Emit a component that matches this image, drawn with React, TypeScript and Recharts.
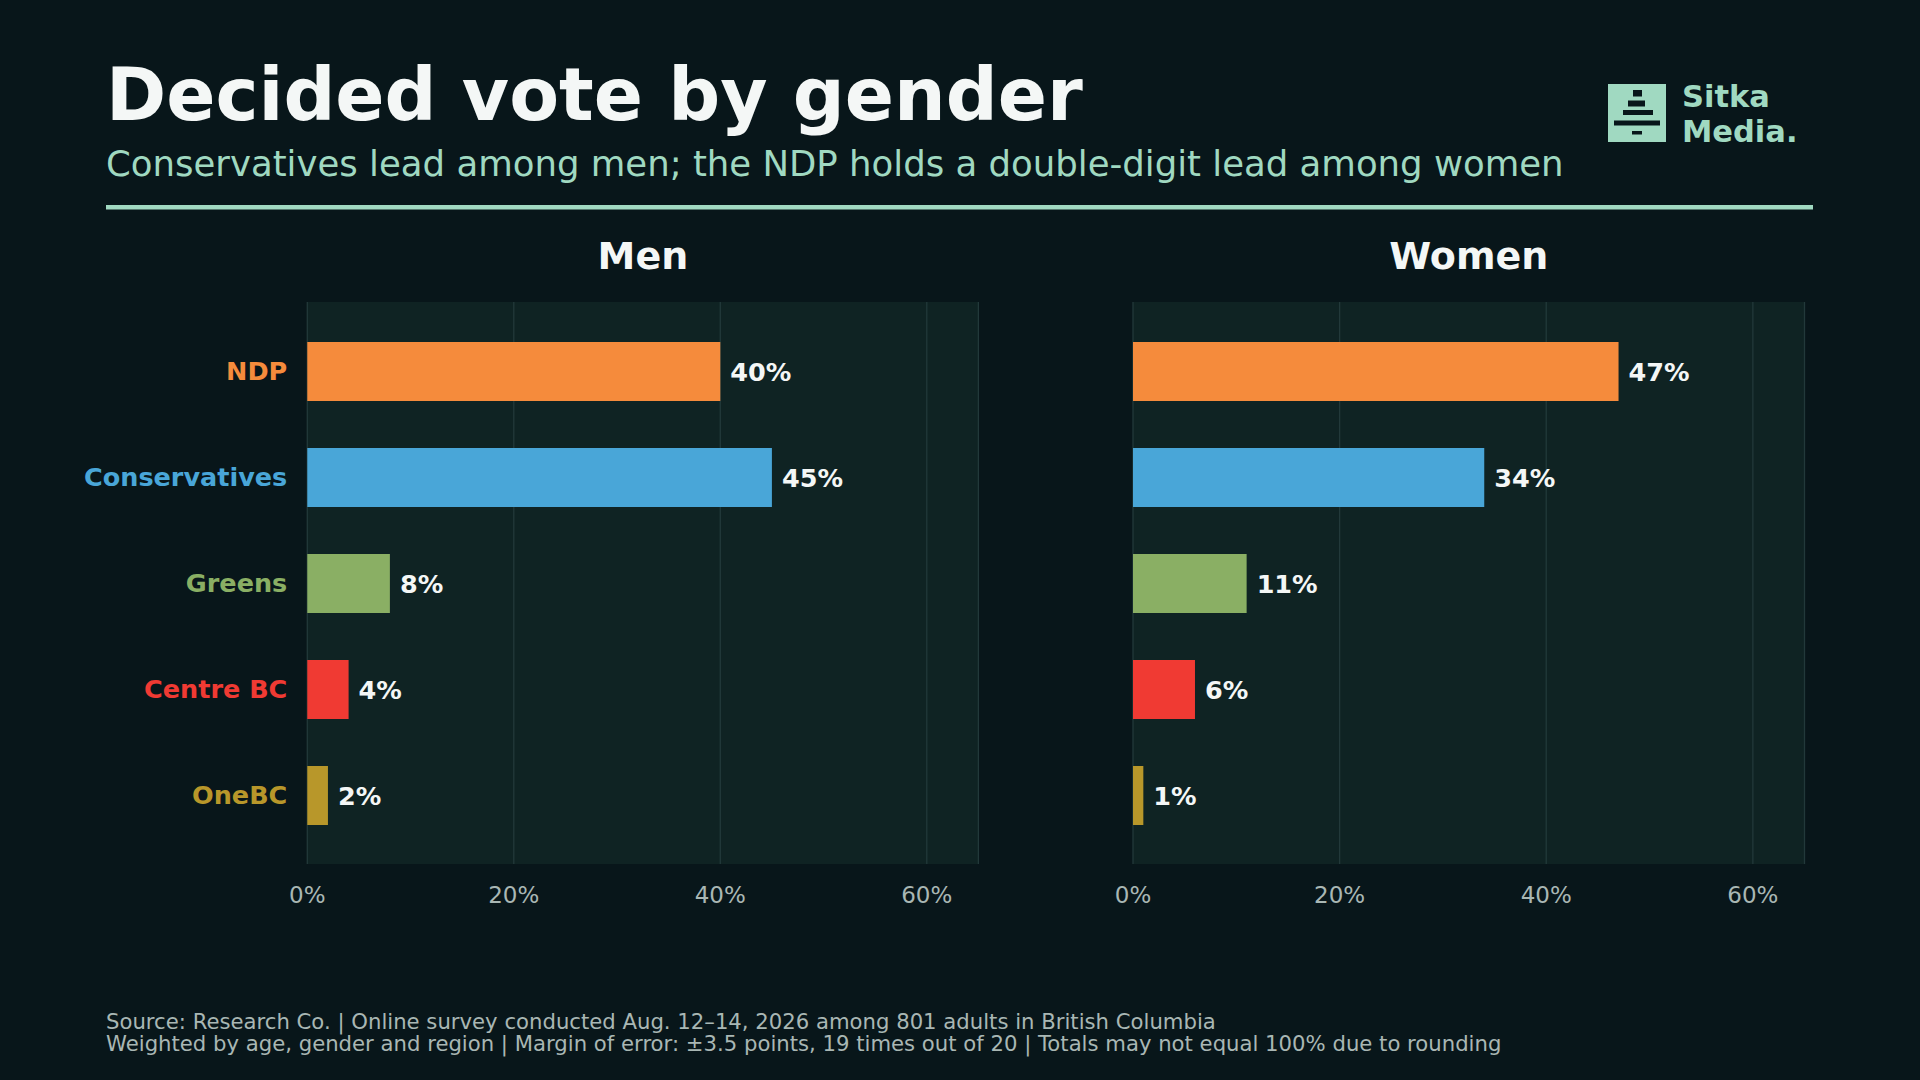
import { Bar, BarChart, CartesianGrid, Cell, LabelList, XAxis, YAxis } from 'recharts';

const parties = ['NDP', 'Conservatives', 'Greens', 'Centre BC', 'OneBC'];
const partyColors = ['#f58b3c', '#49a6d8', '#8aaf64', '#f03a33', '#b8972a'];
const menShares = [40, 45, 8, 4, 2];
const womenShares = [47, 34, 11, 6, 1];
const pctTicks = [0, 20, 40, 60];

const rows = parties.map((party, i) => ({
  party,
  men: menShares[i],
  women: womenShares[i],
}));

const FONT = '"DejaVu Sans", sans-serif';
const BG = '#08161a';
const PLOT_BG = '#0f2323';
const GRID = '#22393a';
const MINT = '#a0d9c1';
const WHITE = '#f4f7f6';
const MUTED = '#a9b7b4';

const colorOf = (party: string) => partyColors[parties.indexOf(party)] ?? WHITE;

function PartyTick({ x, y, payload }: any) {
  return (
    <text
      x={x}
      y={y}
      dy="0.36em"
      textAnchor="end"
      fontFamily={FONT}
      fontSize={25.5}
      fontWeight="bold"
      fill={colorOf(payload.value)}
    >
      {payload.value}
    </text>
  );
}

interface PanelProps {
  dataKey: 'men' | 'women';
  width: number;
  margin: { top: number; right: number; bottom: number; left: number };
  showParties: boolean;
}

function Panel({ dataKey, width, margin, showParties }: PanelProps) {
  return (
    <BarChart width={width} height={720} data={rows} layout="vertical" margin={margin}>
      <CartesianGrid horizontal={false} fill={PLOT_BG} stroke={GRID} strokeWidth={1.3} />
      <XAxis
        type="number"
        domain={[0, 65]}
        ticks={pctTicks}
        tickFormatter={(v: number) => `${v}%`}
        axisLine={false}
        tickLine={false}
        tickSize={0}
        tickMargin={23}
        height={30}
        tick={{ fill: MUTED, fontSize: 23, fontFamily: FONT }}
        interval={0}
      />
      <YAxis
        type="category"
        dataKey="party"
        width={showParties ? 307.3 : 0}
        hide={!showParties}
        axisLine={false}
        tickLine={false}
        tickSize={0}
        tickMargin={20}
        padding={{ top: 16, bottom: 16 }}
        tick={<PartyTick />}
        interval={0}
      />
      <Bar dataKey={dataKey} barSize={59} isAnimationActive={false}>
        {rows.map((r) => (
          <Cell key={r.party} fill={colorOf(r.party)} />
        ))}
        <LabelList
          dataKey={dataKey}
          position="right"
          offset={10}
          formatter={(v: any) => `${v}%`}
          fill={WHITE}
          fontSize={25.5}
          fontWeight="bold"
          fontFamily={FONT}
        />
      </Bar>
    </BarChart>
  );
}

export default function App() {
  return (
    <div
      style={{
        position: 'absolute',
        left: 0,
        top: 0,
        width: 1920,
        height: 1080,
        background: BG,
        fontFamily: FONT,
        overflow: 'hidden',
      }}
    >
      <svg width={1920} height={1080} style={{ position: 'absolute', left: 0, top: 0 }}>
        <text x={106} y={120} fontFamily={FONT} fontSize={72.6} fontWeight="bold" fill={WHITE}>
          Decided vote by gender
        </text>
        <text x={106} y={176} fontFamily={FONT} fontSize={35.5} fill={MINT}>
          Conservatives lead among men; the NDP holds a double-digit lead among women
        </text>
        <rect x={106} y={205} width={1707} height={4.5} fill={MINT} />

        {/* logo */}
        <rect x={1608} y={84} width={58} height={58} fill={MINT} />
        <rect x={1633} y={90} width={9} height={6.5} fill={BG} />
        <rect x={1628} y={100.5} width={17} height={6} fill={BG} />
        <rect x={1623} y={110} width={30} height={5} fill={BG} />
        <rect x={1614} y={120.5} width={46} height={5} fill={BG} />
        <rect x={1632} y={131} width={10} height={3.5} fill={BG} />
        <text x={1682} y={107} fontFamily={FONT} fontSize={30.5} fontWeight="bold" fill={MINT}>
          Sitka
        </text>
        <text x={1682} y={141.5} fontFamily={FONT} fontSize={30.5} fontWeight="bold" fill={MINT}>
          Media.
        </text>

        <text x={642.9} y={269} textAnchor="middle" fontFamily={FONT} fontSize={38} fontWeight="bold" fill={WHITE}>
          Men
        </text>
        <text x={1468.8} y={269} textAnchor="middle" fontFamily={FONT} fontSize={38} fontWeight="bold" fill={WHITE}>
          Women
        </text>

        <text x={106} y={1029} fontFamily={FONT} fontSize={21.2} fill={MUTED}>
          Source: Research Co. | Online survey conducted Aug. 12–14, 2026 among 801 adults in British Columbia
        </text>
        <text x={106} y={1050.5} fontFamily={FONT} fontSize={21.2} fill={MUTED}>
          Weighted by age, gender and region | Margin of error: ±3.5 points, 19 times out of 20 | Totals may not equal 100% due to rounding
        </text>
      </svg>

      <div style={{ position: 'absolute', left: 0, top: 230 }}>
        <Panel dataKey="men" width={1000} margin={{ top: 72, right: 21.6, bottom: 56, left: 0 }} showParties />
      </div>
      <div style={{ position: 'absolute', left: 1100, top: 230 }}>
        <Panel dataKey="women" width={730} margin={{ top: 72, right: 25.5, bottom: 56, left: 33 }} showParties={false} />
      </div>
    </div>
  );
}
